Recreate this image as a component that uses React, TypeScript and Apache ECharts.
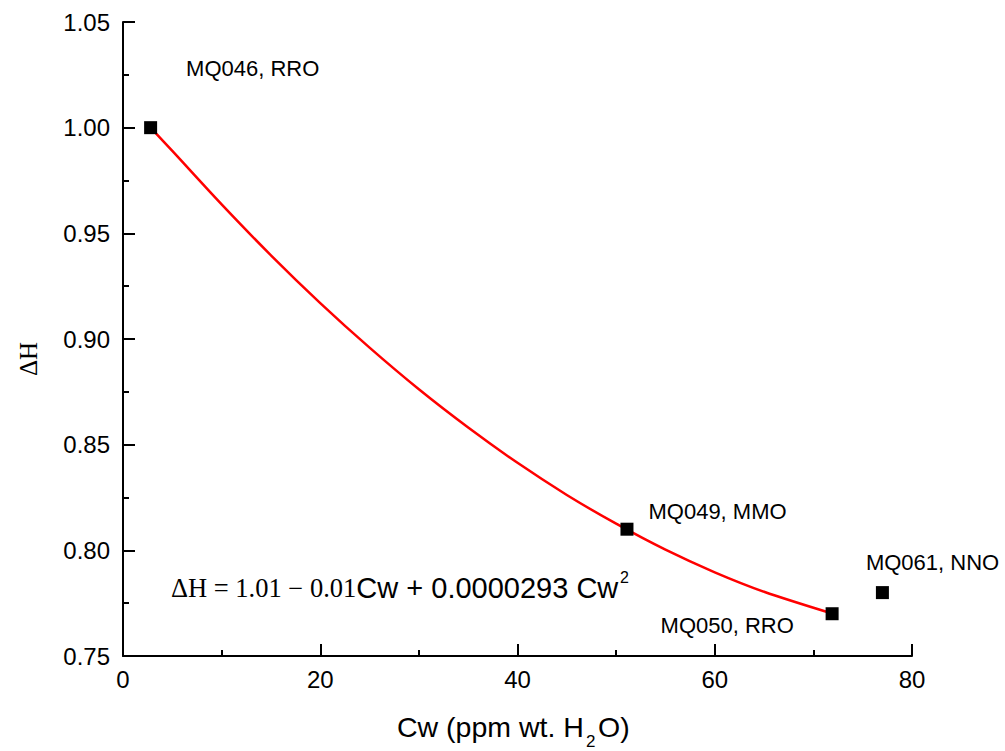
import React, { useEffect, useRef } from "react";
import * as echarts from "echarts";

const pointNames = ["MQ046, RRO", "MQ049, MMO", "MQ050, RRO", "MQ061, NNO"];
const pointX = [2.8, 51.1, 71.9, 77.0];
const pointY = [1.0, 0.81, 0.77, 0.78];
const labelPos: [number, number][] = [
  [42, -53],
  [28, -11],
  [-165, 18],
  [-10, -24],
];

const fitX = [2.8, 5, 10, 15, 20, 25, 30, 35, 40, 45, 50, 55, 60, 65, 71.9];
const fitY = [1.0, 0.989, 0.9637, 0.9396, 0.917, 0.8959, 0.8762, 0.8581, 0.8414, 0.8262, 0.8126, 0.8003, 0.7896, 0.7804, 0.7701];

const xTicks = { min: 0, max: 80, interval: 20 };
const yTicks = { min: 0.75, max: 1.05, interval: 0.05 };

const SANS = "'Liberation Sans', Arial, sans-serif";
const SERIF = "'Liberation Serif', 'Times New Roman', serif";

export default function App() {
  const ref = useRef<HTMLDivElement>(null);
  useEffect(() => {
    if (!ref.current) return;
    const chart = echarts.init(ref.current, null, { renderer: "svg" });
    const axisCommon = {
      axisLine: { show: true, onZero: false, lineStyle: { color: "#000", width: 2 } },
      axisTick: { show: true, inside: true, length: 12, lineStyle: { color: "#000", width: 2 } },
      minorTick: { show: true, splitNumber: 2, length: 6, lineStyle: { color: "#000", width: 2 } },
      splitLine: { show: false },
      axisLabel: { color: "#000", fontSize: 24, fontFamily: SANS },
    };
    chart.setOption({
      animation: false,
      backgroundColor: "#fff",
      grid: { left: 123, top: 22, width: 789, height: 634 },
      xAxis: {
        type: "value",
        ...xTicks,
        ...axisCommon,
        axisLabel: { ...axisCommon.axisLabel, margin: 11, showMaxLabel: true },
      },
      yAxis: {
        type: "value",
        ...yTicks,
        ...axisCommon,
        axisLabel: {
          ...axisCommon.axisLabel,
          margin: 13,
          formatter: (v: number) => v.toFixed(2),
        },
      },
      series: [
        {
          type: "line",
          data: fitX.map((x, i) => [x, fitY[i]]),
          smooth: 0.3,
          showSymbol: false,
          lineStyle: { color: "#ff0000", width: 2.5 },
          z: 2,
        },
        {
          type: "scatter",
          symbol: "rect",
          symbolSize: 13,
          itemStyle: { color: "#000", opacity: 1 },
          z: 3,
          data: pointX.map((x, i) => ({
            value: [x, pointY[i]],
            name: pointNames[i],
            label: {
              show: true,
              position: labelPos[i],
              align: "left",
              verticalAlign: "middle",
              formatter: pointNames[i],
              color: "#000",
              opacity: 1,
              fontSize: 22,
              fontFamily: SANS,
            },
          })),
        },
      ],
      graphic: [
        {
          type: "text",
          x: 28,
          y: 359,
          rotation: Math.PI / 2,
          style: {
            text: "ΔH",
            font: `25px ${SERIF}`,
            fill: "#000",
            align: "center",
            verticalAlign: "middle",
          },
        },
        {
          type: "text",
          x: 397,
          y: 727,
          style: {
            text: "Cw (ppm wt. H",
            font: `28.5px ${SANS}`,
            fill: "#000",
            align: "left",
            verticalAlign: "middle",
          },
        },
        {
          type: "text",
          x: 586,
          y: 741,
          style: {
            text: "2",
            font: `17px ${SANS}`,
            fill: "#000",
            align: "left",
            verticalAlign: "middle",
          },
        },
        {
          type: "text",
          x: 598,
          y: 727,
          style: {
            text: "O)",
            font: `28.5px ${SANS}`,
            fill: "#000",
            align: "left",
            verticalAlign: "middle",
          },
        },
        {
          type: "text",
          x: 171,
          y: 588,
          style: {
            text: "{t|ΔH = 1.01 − 0.01}{a|Cw + 0.0000293 Cw}",
            verticalAlign: "middle",
            align: "left",
            rich: {
              t: { fontSize: 26.5, fontFamily: SERIF, color: "#000" },
              a: { fontSize: 29, fontFamily: SANS, color: "#000" },
            },
          },
        },
        {
          type: "text",
          x: 620,
          y: 577,
          style: {
            text: "2",
            font: `16px ${SANS}`,
            fill: "#000",
            align: "left",
            verticalAlign: "middle",
          },
        },
      ],
    });
    return () => chart.dispose();
  }, []);
  return <div ref={ref} style={{ width: 1005, height: 751, position: "absolute", left: 0, top: 0 }} />;
}
